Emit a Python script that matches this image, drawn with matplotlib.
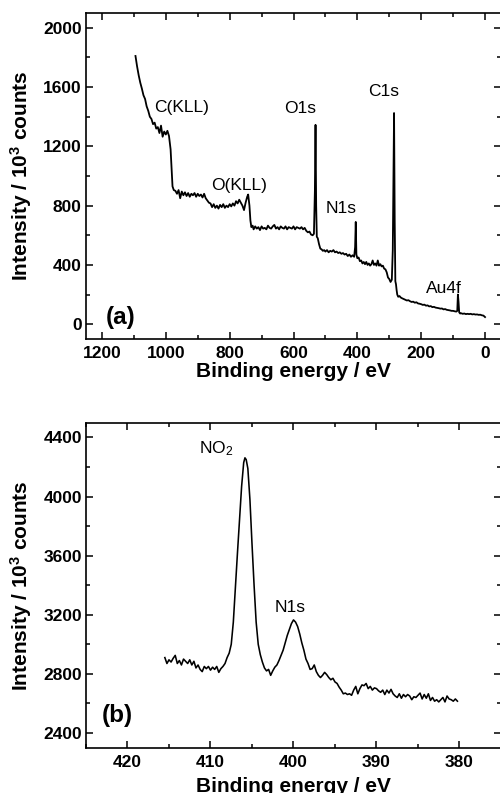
import matplotlib
matplotlib.use("Agg")
import matplotlib.pyplot as plt
from matplotlib.ticker import MultipleLocator

plt.rcParams['font.family'] = ['Liberation Sans', 'DejaVu Sans']
plt.rcParams['mathtext.fontset'] = 'custom'
plt.rcParams['mathtext.rm'] = 'Liberation Sans'
plt.rcParams['mathtext.bf'] = 'Liberation Sans:bold'
plt.rcParams['mathtext.it'] = 'Liberation Sans:italic'

# ---------------- survey spectrum (a) ----------------
survey_energy = [
    1095, 1090, 1085, 1080, 1075, 1070, 1065, 1060, 1055, 1050, 1045, 1040, 1035, 1030,
    1025, 1020, 1015, 1010, 1005, 1000, 995, 990, 985, 982, 979, 975, 970, 965, 960, 955,
    950, 945, 940, 935, 930, 925, 920, 915, 910, 905, 900, 895, 890, 885, 880, 875, 870,
    865, 860, 855, 850, 845, 840, 835, 830, 825, 820, 815, 810, 805, 800, 795, 790, 785,
    780, 775, 770, 765, 760, 755, 750, 745, 742, 738, 735, 732, 728, 725, 720, 715, 710,
    705, 700, 695, 690, 685, 680, 675, 670, 665, 660, 655, 650, 645, 640, 635, 630, 625,
    620, 615, 610, 605, 600, 595, 590, 585, 580, 575, 570, 565, 560, 555, 550, 545, 540,
    536, 533, 531, 529, 527, 524, 520, 516, 512, 508, 504, 500, 495, 490, 485, 480, 475,
    470, 465, 460, 455, 450, 445, 440, 435, 430, 425, 420, 415, 410, 407, 405, 403, 400,
    396, 392, 388, 384, 380, 376, 372, 368, 364, 360, 356, 352, 348, 344, 340, 336, 332,
    328, 324, 320, 316, 312, 308, 304, 300, 296, 292, 289, 287, 285, 283, 281, 279, 277,
    275, 272, 268, 264, 260, 255, 250, 245, 240, 235, 230, 225, 220, 215, 210, 205, 200,
    195, 190, 185, 180, 175, 170, 165, 160, 155, 150, 145, 140, 135, 130, 125, 120, 115,
    110, 105, 100, 95, 90, 87, 85, 83, 81, 78, 75, 70, 65, 60, 55, 50, 45, 40, 35, 30,
    25, 20, 15, 10, 5, 2, 0]
survey_intensity = [
    1810, 1740, 1680, 1630, 1590, 1545, 1520, 1470, 1440, 1400, 1385, 1350, 1360, 1320,
    1330, 1290, 1340, 1265, 1300, 1280, 1305, 1270, 1180, 1050, 930, 905, 900, 880, 905, 850,
    895, 870, 890, 865, 885, 860, 880, 870, 885, 860, 880, 865, 875, 855, 880, 850, 835,
    820, 815, 790, 810, 785, 800, 780, 805, 790, 810, 785, 800, 790, 810, 795, 815, 800,
    830, 815, 840, 820, 800, 770, 820, 860, 875, 800, 700, 655, 665, 640, 660, 645, 655,
    635, 660, 645, 650, 640, 665, 650, 645, 660, 670, 645, 655, 640, 660, 650, 645, 660,
    640, 655, 650, 645, 660, 640, 655, 650, 645, 655, 640, 650, 630, 620, 625, 605, 600,
    610, 900, 1345, 800, 590, 580, 540, 510, 505, 495, 500, 490, 500, 485, 495, 490, 500,
    485, 490, 480, 485, 475, 480, 470, 475, 460, 470, 455, 465, 455, 520, 690, 470, 445,
    450, 425, 430, 410, 420, 405, 420, 400, 410, 395, 405, 430, 400, 410, 395, 430, 395,
    405, 390, 395, 375, 370, 350, 315, 305, 285, 300, 500, 1000, 1425, 700, 290, 270, 230,
    200, 185, 190, 180, 175, 170, 165, 160, 162, 155, 150, 152, 145, 148, 140, 138, 135,
    130, 132, 125, 127, 120, 122, 115, 117, 112, 110, 108, 105, 106, 100, 102, 97, 95,
    93, 90, 90, 87, 85, 90, 200, 150, 80, 72, 74, 70, 72, 68, 70, 68, 70, 66, 68, 65,
    66, 63, 64, 60, 58, 52, 48]

survey_labels = ["C(KLL)", "O(KLL)", "O1s", "C1s", "N1s", "Au4f"]
survey_label_x = [1037, 858, 630, 367, 500, 186]
survey_label_y = [1435, 905, 1424, 1537, 747, 213]

# ---------------- N1s region (b) ----------------
n1s_energy = [
    415.5, 415.25,
    415.0, 414.75, 414.5, 414.25,
    414.0, 413.75, 413.5, 413.25,
    413.0, 412.75, 412.5, 412.25,
    412.0, 411.75, 411.5, 411.25,
    411.0, 410.75, 410.5, 410.25,
    410.0, 409.75, 409.5, 409.25,
    409.0, 408.75, 408.5, 408.25,
    408.0, 407.75, 407.5, 407.25,
    407.0, 406.75, 406.5, 406.25,
    406.0, 405.85, 405.7,
    405.5, 405.25, 405.0, 404.75,
    404.5, 404.25, 404.0, 403.75,
    403.5, 403.25, 403.0, 402.75,
    402.5, 402.25, 402.0, 401.75,
    401.5, 401.25, 401.0, 400.75,
    400.5, 400.25, 400.0, 399.75,
    399.5, 399.25, 399.0, 398.75,
    398.5, 398.25, 398.0, 397.75,
    397.5, 397.25, 397.0, 396.75,
    396.5, 396.25, 396.0, 395.75,
    395.5, 395.25, 395.0, 394.75,
    394.5, 394.25, 394.0, 393.75,
    393.5, 393.25, 393.0, 392.75,
    392.5, 392.25, 392.0, 391.75,
    391.5, 391.25, 391.0, 390.75,
    390.5, 390.25, 390.0, 389.75,
    389.5, 389.25, 389.0, 388.75,
    388.5, 388.25, 388.0, 387.75,
    387.5, 387.25, 387.0, 386.75,
    386.5, 386.25, 386.0, 385.75,
    385.5, 385.25, 385.0, 384.75,
    384.5, 384.25, 384.0, 383.75,
    383.5, 383.25, 383.0, 382.75,
    382.5, 382.25, 382.0, 381.75,
    381.5, 381.25, 381.0, 380.75,
    380.5, 380.25]
n1s_intensity = [
    2910, 2870,
    2895, 2880, 2905, 2925,
    2870, 2890, 2860, 2900,
    2885, 2870, 2895, 2860,
    2885, 2840, 2860, 2830,
    2815, 2850, 2835, 2850,
    2825, 2845, 2830, 2850,
    2810, 2835, 2850, 2870,
    2910, 2940, 3000, 3150,
    3390, 3620, 3850, 4070,
    4230, 4262, 4250,
    4190, 3980, 3680, 3400,
    3150, 3000, 2930, 2880,
    2840, 2820, 2830, 2790,
    2820, 2845, 2860, 2890,
    2925, 2960, 3010, 3060,
    3100, 3140, 3165, 3150,
    3120, 3070, 3010, 2960,
    2900, 2870, 2830, 2835,
    2860, 2815, 2790, 2775,
    2790, 2810, 2795, 2775,
    2760, 2770, 2745, 2735,
    2710, 2690, 2665, 2670,
    2660, 2665, 2655, 2690,
    2715, 2665, 2700, 2725,
    2720, 2735, 2700, 2715,
    2690, 2705, 2700, 2685,
    2675, 2690, 2660, 2690,
    2670, 2695, 2665, 2650,
    2640, 2665, 2635, 2660,
    2645, 2660, 2650, 2625,
    2645, 2640, 2655, 2670,
    2630, 2660, 2635, 2665,
    2620, 2640, 2615, 2625,
    2610, 2625, 2640, 2610,
    2650, 2630, 2625, 2615,
    2630, 2615]

n1s_labels = ["NO$_2$", "N1s"]
n1s_label_x = [411.4, 402.3]
n1s_label_y = [4290, 3217]

fig = plt.figure(figsize=(5.0, 7.93), dpi=100)
ax1 = fig.add_axes([0.172, 0.5725, 0.830, 0.4111])
ax2 = fig.add_axes([0.172, 0.0571, 0.830, 0.4099])

ax1.plot(survey_energy, survey_intensity, color='black', lw=1.3)
ax1.set_xlim(1250, -50)
ax1.set_ylim(-100, 2100)
ax1.xaxis.set_major_locator(MultipleLocator(200))
ax1.xaxis.set_minor_locator(MultipleLocator(100))
ax1.yaxis.set_major_locator(MultipleLocator(400))
ax1.yaxis.set_minor_locator(MultipleLocator(200))
for t, x, y in zip(survey_labels, survey_label_x, survey_label_y):
    ax1.text(x, y, t, ha='left', va='baseline', fontsize=12.5)
ax1.text(1188, 3, '(a)', ha='left', va='baseline', fontsize=17.5, fontweight='bold')

ax2.plot(n1s_energy, n1s_intensity, color='black', lw=1.15)
ax2.set_xlim(425, 375)
ax2.set_ylim(2300, 4500)
ax2.xaxis.set_major_locator(MultipleLocator(10))
ax2.xaxis.set_minor_locator(MultipleLocator(5))
ax2.yaxis.set_major_locator(MultipleLocator(400))
ax2.yaxis.set_minor_locator(MultipleLocator(200))
for t, x, y in zip(n1s_labels, n1s_label_x, n1s_label_y):
    ax2.text(x, y, t, ha='left', va='baseline', fontsize=12.5)
ax2.text(423.1, 2473, '(b)', ha='left', va='baseline', fontsize=17.5, fontweight='bold')

for ax, xl_y in ((ax1, -0.070), (ax2, -0.089)):
    for s in ax.spines.values():
        s.set_linewidth(1.2)
    ax.tick_params(which='both', direction='in', top=True, right=True, width=1.1)
    ax.tick_params(which='major', length=5, labelsize=12.5)
    ax.tick_params(axis='y', which='major', pad=3)
    ax.tick_params(axis='x', which='major', pad=5)
    ax.tick_params(which='minor', length=3)
    for lab in ax.get_xticklabels() + ax.get_yticklabels():
        lab.set_fontweight('bold')
    ax.set_xlabel('Binding energy / eV', fontsize=15, fontweight='bold', va='top')
    ax.set_ylabel(r'Intensity / 10$^\mathbf{3}$ counts', fontsize=15, fontweight='bold')
    ax.xaxis.set_label_coords(0.5, xl_y)
    ax.yaxis.set_label_coords(-0.125, 0.5)

fig.savefig('out.png', dpi=100)
